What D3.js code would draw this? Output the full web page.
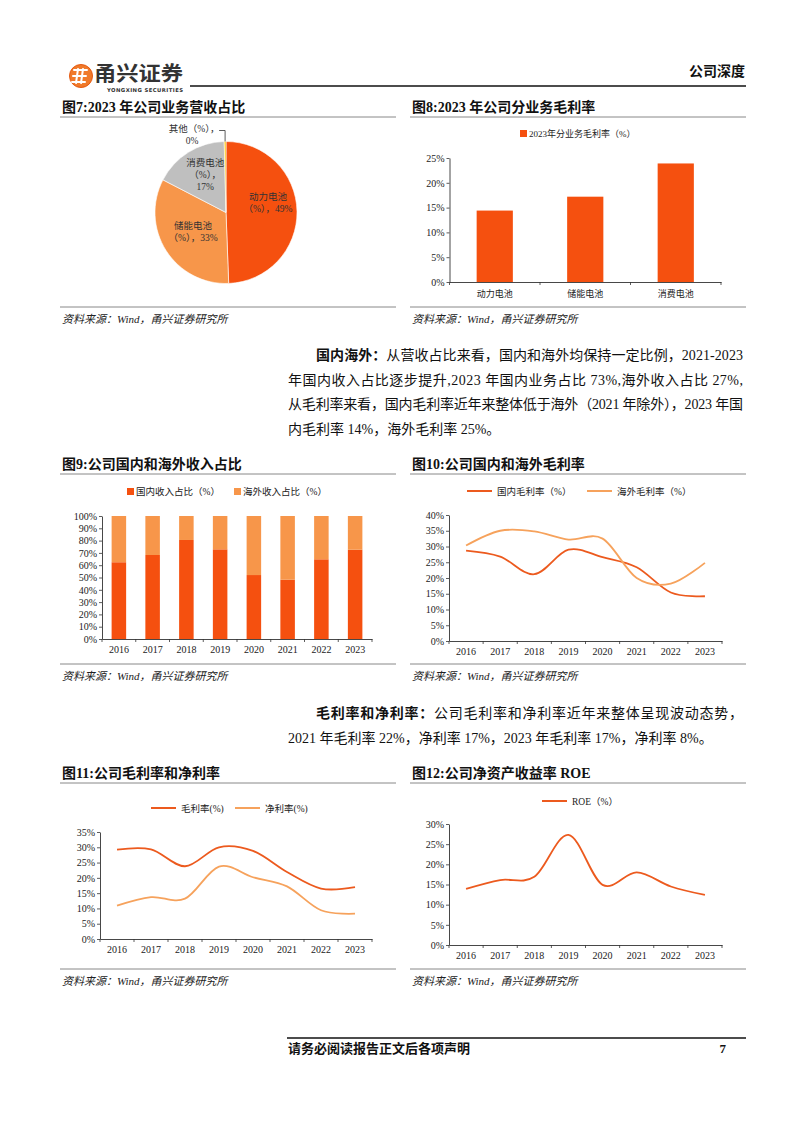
<!DOCTYPE html>
<html><head><meta charset="utf-8">
<script src="https://cdn.jsdelivr.net/npm/d3@7"></script>
<style>
html,body{margin:0;padding:0;background:#fff;}
svg{display:block;}
</style></head>
<body>
<svg id="page" width="802" height="1133"></svg>
<script>
// ---------- DATA ----------
const years = ["2016","2017","2018","2019","2020","2021","2022","2023"];

const pieLabels = ["动力电池（%）","储能电池（%）","消费电池（%）","其他（%）"];
const pieValues = [49.4, 33.2, 17.0, 0.4];

const segCategories = ["动力电池","储能电池","消费电池"];
const segMargin2023 = [14.4, 17.2, 23.9];

const domesticShare = [62.4, 68.3, 80.5, 72.9, 52.0, 48.2, 64.8, 72.6];
const overseasShare = [37.6, 31.7, 19.5, 27.1, 48.0, 51.8, 35.2, 27.4];

const domesticGM = [28.7, 26.8, 21.2, 29.0, 26.6, 23.4, 15.4, 14.2];
const overseasGM = [30.3, 35.0, 34.8, 32.2, 32.5, 20.0, 18.2, 24.8];

const grossMargin = [29.2, 29.3, 23.8, 30.0, 28.8, 21.9, 16.5, 17.0];
const netMargin   = [10.9, 13.7, 13.2, 23.7, 20.2, 17.2, 9.4, 8.3];

const roe = [13.9, 16.1, 16.9, 27.3, 14.9, 18.0, 14.5, 12.4];

const ticks25 = [0,5,10,15,20,25];
const ticks100 = [0,10,20,30,40,50,60,70,80,90,100];
const ticks40 = [0,5,10,15,20,25,30,35,40];
const ticks35 = [0,5,10,15,20,25,30,35];
const ticks30 = [0,5,10,15,20,25,30];

// ---------- STYLE ----------
const SERIF = "'Liberation Serif','Times New Roman','Noto Sans CJK SC',serif";
const C_MAIN = "#F5500F";
const C_LIGHT = "#F7964A";
const C_LINE1 = "#EC5A1E";
const C_LINE2 = "#F6A25C";
const C_GRAY = "#BFBFBF";
const C_YELLOW = "#FFC000";
const TXT = "#222";

const svg = d3.select("#page");
svg.append("rect").attr("width",802).attr("height",1133).attr("fill","#fff");

// ---------- HEADER ----------
const hdr = svg.append("g");
hdr.append("circle").attr("cx",81).attr("cy",76).attr("r",11.5).attr("fill","#F07A2A");
hdr.append("circle").attr("cx",81).attr("cy",76).attr("r",11.5).attr("fill","none").attr("stroke","#E55A12").attr("stroke-width",1);
hdr.append("path").attr("d","M74 70 L87 70 M73 76 L86 76 M72 82 L85 82 M78 69 L76 83 M83 69 L81 83")
  .attr("stroke","#fff").attr("stroke-width",2).attr("fill","none").attr("stroke-linecap","round");
hdr.append("text").attr("x",94).attr("y",81).attr("font-family","'Noto Sans CJK SC',sans-serif")
  .attr("font-size",20).attr("font-weight",700).attr("fill","#333")
  .attr("textLength",89).attr("lengthAdjust","spacingAndGlyphs").text("甬兴证券");
hdr.append("text").attr("x",107).attr("y",92).attr("font-family","'DejaVu Sans',sans-serif")
  .attr("font-size",5.3).attr("font-weight",700).attr("fill","#333").attr("textLength",76).text("YONGXING SECURITIES");
hdr.append("line").attr("x1",190).attr("x2",746).attr("y1",86).attr("y2",86).attr("stroke","#111").attr("stroke-width",1.6);
hdr.append("text").attr("x",745).attr("y",76).attr("text-anchor","end").attr("font-family",SERIF)
  .attr("font-size",14).attr("font-weight",700).attr("fill","#111").text("公司深度");

// ---------- PANEL FRAMES ----------
function panelFrame(x0, x1, titleY, lineY, bottomY, title) {
  svg.append("text").attr("x",x0+2).attr("y",titleY).attr("font-family",SERIF)
    .attr("font-size",14).attr("font-weight",700).attr("fill","#111").text(title);
  svg.append("line").attr("x1",x0).attr("x2",x1).attr("y1",lineY).attr("y2",lineY).attr("stroke","#888").attr("stroke-width",1);
  svg.append("line").attr("x1",x0).attr("x2",x1).attr("y1",bottomY).attr("y2",bottomY).attr("stroke","#888").attr("stroke-width",1);
  svg.append("text").attr("x",x0+2).attr("y",bottomY+16).attr("font-family",SERIF)
    .attr("font-size",11).attr("font-style","italic").attr("fill","#222").text("资料来源：Wind，甬兴证券研究所");
}
panelFrame(60, 396, 112, 117, 307, "图7:2023 年公司业务营收占比");
panelFrame(410, 746, 112, 117, 307, "图8:2023 年公司分业务毛利率");
panelFrame(60, 396, 469, 474, 664, "图9:公司国内和海外收入占比");
panelFrame(410, 746, 469, 474, 664, "图10:公司国内和海外毛利率");
panelFrame(60, 396, 778, 783, 969, "图11:公司毛利率和净利率");
panelFrame(410, 746, 778, 783, 969, "图12:公司净资产收益率 ROE");

// ---------- BODY TEXT ----------
function bodyLine(x, y, boldPart, rest, endX) {
  const t = svg.append("text").attr("x",x).attr("y",y).attr("font-family",SERIF)
    .attr("font-size",14).attr("fill","#111");
  if (boldPart) t.append("tspan").attr("font-weight",700).text(boldPart);
  t.append("tspan").text(rest);
  if (endX) t.attr("textLength", endX - x).attr("lengthAdjust","spacing");
}
bodyLine(316, 360, "国内海外：", "从营收占比来看，国内和海外均保持一定比例，2021-2023", 743);
bodyLine(288, 385, null, "年国内收入占比逐步提升,2023 年国内业务占比 73%,海外收入占比 27%,", 743);
bodyLine(288, 409, null, "从毛利率来看，国内毛利率近年来整体低于海外（2021 年除外），2023 年国", 743);
bodyLine(288, 434, null, "内毛利率 14%，海外毛利率 25%。", null);
bodyLine(316, 718, "毛利率和净利率：", "公司毛利率和净利率近年来整体呈现波动态势，", 743);
bodyLine(288, 743, null, "2021 年毛利率 22%，净利率 17%，2023 年毛利率 17%，净利率 8%。", null);

// ---------- FOOTER ----------
svg.append("line").attr("x1",287).attr("x2",746).attr("y1",1038).attr("y2",1038).attr("stroke","#111").attr("stroke-width",1.3);
svg.append("text").attr("x",288).attr("y",1053).attr("font-family",SERIF).attr("font-size",13).attr("font-weight",700).attr("fill","#111").text("请务必阅读报告正文后各项声明");
svg.append("text").attr("x",726).attr("y",1053).attr("text-anchor","end").attr("font-family",SERIF).attr("font-size",13).attr("font-weight",700).attr("fill","#111").text("7");

// ---------- AXES HELPERS ----------
function yAxis(g, y, x0, tickVals) {
  const ax = d3.axisLeft(y).tickValues(tickVals).tickFormat(d => d + "%").tickSize(3).tickSizeOuter(0).tickPadding(2);
  const a = g.append("g").attr("transform", `translate(${x0},0)`).call(ax);
  a.select(".domain").attr("stroke","#333").attr("stroke-width",0.9);
  a.selectAll(".tick line").attr("stroke","#333").attr("stroke-width",0.8);
  a.selectAll("text").attr("font-family",SERIF).attr("font-size",10).attr("fill",TXT);
  return a;
}
function xAxisBand(g, x, y0, fontSize, labelDy) {
  const ax = d3.axisBottom(x).tickSize(0).tickSizeOuter(0).tickPadding(labelDy);
  const a = g.append("g").attr("transform", `translate(0,${y0})`).call(ax);
  a.select(".domain").attr("stroke","#333").attr("stroke-width",0.9);
  a.selectAll("text").attr("font-family",SERIF).attr("font-size",fontSize).attr("fill",TXT);
  const [r0] = x.range();
  const n = x.domain().length;
  for (let i = 0; i <= n; i++) {
    const xx = r0 + x.step() * i;
    g.append("line").attr("x1",xx).attr("x2",xx).attr("y1",y0).attr("y2",y0+3).attr("stroke","#333").attr("stroke-width",0.8);
  }
  return a;
}
function legendItem(g, x, y, type, color, label, fontSize) {
  if (type === "rect") {
    g.append("rect").attr("x",x).attr("y",y-4).attr("width",7).attr("height",7).attr("fill",color);
    g.append("text").attr("x",x+9).attr("y",y+3).attr("font-family",SERIF).attr("font-size",fontSize).attr("fill",TXT).text(label);
  } else {
    g.append("line").attr("x1",x).attr("x2",x+25).attr("y1",y).attr("y2",y).attr("stroke",color).attr("stroke-width",2);
    g.append("text").attr("x",x+30).attr("y",y+3.5).attr("font-family",SERIF).attr("font-size",fontSize).attr("fill",TXT).text(label);
  }
}

// ---------- CHART 7: PIE ----------
(function(){
  const g = svg.append("g");
  const cx = 226, cy = 212.5, r = 71;
  const pie = d3.pie().sort(null)(pieValues);
  const arc = d3.arc().innerRadius(0).outerRadius(r);
  const colors = [C_MAIN, C_LIGHT, C_GRAY, C_YELLOW];
  const pg = g.append("g").attr("transform",`translate(${cx},${cy})`);
  pg.selectAll("path").data(pie).join("path").attr("d",arc).attr("fill",(d,i)=>colors[i])
    .attr("stroke","#fff").attr("stroke-width",0.6);
  const pct = pieValues.map(v => Math.round(v) + "%");
  const labelArc = d3.arc().innerRadius(45).outerRadius(45);
  const layouts = [
    {lines:[pieLabels[0].replace("（%）",""), "（%），" + pct[0]], dx:-3, dy:-12},
    {lines:[pieLabels[1].replace("（%）",""), "（%），" + pct[1]], dx:5, dy:-8},
    {lines:[pieLabels[2].replace("（%）",""), "（%），", pct[2]], dx:3, dy:-8}
  ];
  layouts.forEach((L,i) => {
    const [px,py] = labelArc.centroid(pie[i]);
    const t = pg.append("text").attr("text-anchor","middle").attr("font-family",SERIF).attr("font-size",9.5).attr("fill","#333");
    L.lines.forEach((s,k) => t.append("tspan").attr("x",px+L.dx).attr("y",py+L.dy+k*12).text(s));
  });
  const [ox, oy] = d3.arc().innerRadius(r).outerRadius(r).centroid(pie[3]);
  pg.append("path").attr("d",`M${ox},${oy} L${ox},${oy-11} L${ox-6},${oy-11}`).attr("fill","none").attr("stroke","#333").attr("stroke-width",0.8);
  const t = pg.append("text").attr("text-anchor","middle").attr("font-family",SERIF).attr("font-size",9.5).attr("fill","#333");
  t.append("tspan").attr("x",ox-31).attr("y",oy-10).text(pieLabels[3] + "，");
  t.append("tspan").attr("x",ox-33).attr("y",oy+2).text(pct[3]);
})();

// ---------- CHART 8: BARS ----------
(function(){
  const g = svg.append("g");
  const x = d3.scaleBand().domain(segCategories).range([449.5,721]).paddingInner(0.6).paddingOuter(0.3);
  const y = d3.scaleLinear().domain([0,25]).range([282,158]);
  yAxis(g, y, 449.5, ticks25);
  g.selectAll("rect.bar").data(segMargin2023).join("rect").attr("class","bar")
    .attr("x",(d,i)=>x(segCategories[i])).attr("width",x.bandwidth())
    .attr("y",d=>y(d)).attr("height",d=>y(0)-y(d)).attr("fill",C_MAIN);
  const xb = d3.scaleBand().domain(segCategories).range([449.5,721]);
  xAxisBand(g, xb, 282, 9, 9);
  legendItem(g, 520, 134, "rect", C_MAIN, "2023年分业务毛利率（%）", 9);
})();

// ---------- CHART 9: STACKED BARS ----------
(function(){
  const g = svg.append("g");
  const x = d3.scaleBand().domain(years).range([102,372]).paddingInner(0.57).paddingOuter(0.285);
  const y = d3.scaleLinear().domain([0,100]).range([639,516]);
  yAxis(g, y, 102, ticks100);
  const rows = years.map((yr,i)=>({year:yr, dom:domesticShare[i], ovs:overseasShare[i]}));
  const stack = d3.stack().keys(["dom","ovs"])(rows);
  const colors = [C_MAIN, C_LIGHT];
  stack.forEach((s,k)=>{
    g.selectAll(null).data(s).join("rect")
      .attr("x",d=>x(d.data.year)).attr("width",x.bandwidth())
      .attr("y",d=>y(d[1])).attr("height",d=>y(d[0])-y(d[1])).attr("fill",colors[k]);
  });
  const xb = d3.scaleBand().domain(years).range([102,372]);
  xAxisBand(g, xb, 639, 10, 7);
  legendItem(g, 127, 492, "rect", C_MAIN, "国内收入占比（%）", 9.5);
  legendItem(g, 234, 492, "rect", C_LIGHT, "海外收入占比（%）", 9.5);
})();

// ---------- LINE CHART HELPER ----------
function lineChart(opts){
  const g = svg.append("g");
  const xb = d3.scaleBand().domain(years).range([opts.x0, opts.x1]);
  const y = d3.scaleLinear().domain([0, opts.max]).range([opts.y0, opts.y1]);
  yAxis(g, y, opts.x0, opts.ticks);
  xAxisBand(g, xb, opts.y0, 10, 7);
  const line = d3.line().x((d,i)=>xb(years[i]) + xb.bandwidth()/2).y(d=>y(d)).curve(d3.curveCatmullRom.alpha(0));
  opts.series.forEach(s=>{
    g.append("path").attr("d", line(s.values)).attr("fill","none").attr("stroke",s.color).attr("stroke-width",1.8).attr("stroke-linejoin","round");
  });
  opts.legend.forEach(L => legendItem(g, L.x, L.y, "line", L.color, L.label, 9.5));
}

lineChart({x0:449, x1:722, y0:641, y1:515, max:40, ticks:ticks40,
  series:[{values:domesticGM, color:C_LINE1},{values:overseasGM, color:C_LINE2}],
  legend:[{x:467,y:491,color:C_LINE1,label:"国内毛利率（%）"},{x:587,y:491,color:C_LINE2,label:"海外毛利率（%）"}]});

lineChart({x0:100, x1:372, y0:939, y1:832, max:35, ticks:ticks35,
  series:[{values:grossMargin, color:C_LINE1},{values:netMargin, color:C_LINE2}],
  legend:[{x:151,y:808,color:C_LINE1,label:"毛利率(%)"},{x:235,y:808,color:C_LINE2,label:"净利率(%)"}]});

lineChart({x0:449, x1:722, y0:945, y1:824, max:30, ticks:ticks30,
  series:[{values:roe, color:C_LINE1}],
  legend:[{x:542,y:801,color:C_LINE1,label:"ROE（%）"}]});
</script>
</body></html>
